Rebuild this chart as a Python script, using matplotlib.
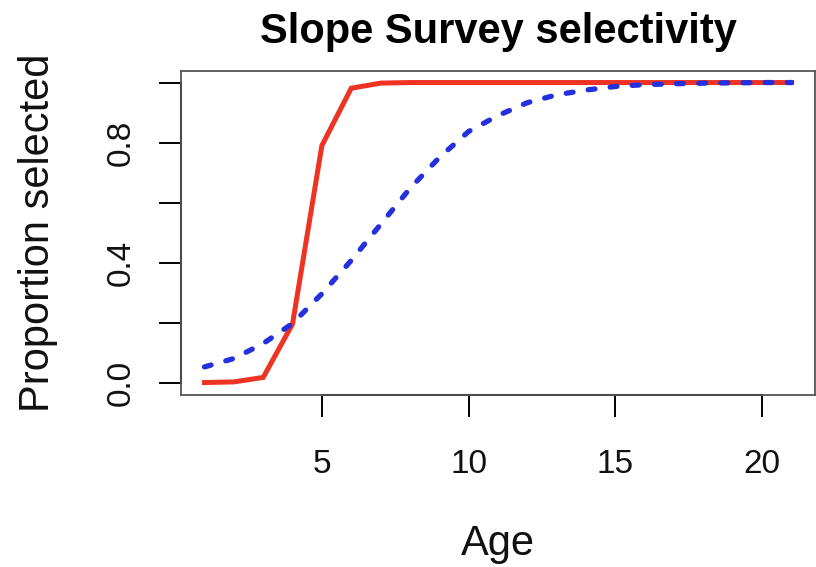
import matplotlib
matplotlib.use("Agg")
import matplotlib.pyplot as plt
import matplotlib.transforms as mtransforms

plt.rcParams["font.family"] = ["Liberation Sans", "DejaVu Sans"]

# selectivity at age for the two curves
ages = list(range(1, 22))
red_sel = [0.0, 0.002, 0.017, 0.195, 0.79, 0.981, 0.998, 1.0, 1.0, 1.0, 1.0,
           1.0, 1.0, 1.0, 1.0, 1.0, 1.0, 1.0, 1.0, 1.0, 1.0]
blue_sel = [0.052, 0.08, 0.13, 0.197, 0.296, 0.407, 0.527, 0.647, 0.75, 0.837,
            0.89, 0.933, 0.959, 0.975, 0.987, 0.993, 0.996, 0.998, 0.999, 1.0, 1.0]

x_ticks = [5, 10, 15, 20]
y_ticks = [0.0, 0.2, 0.4, 0.6, 0.8, 1.0]
y_labels = ["0.0", "", "0.4", "", "0.8", ""]

fig = plt.figure(figsize=(8.16, 5.67), dpi=100)
ax = fig.add_axes([0.2218, 0.3042, 0.7770, 0.5714])

ax.plot(ages, red_sel, color="#EE3322", lw=3.6, solid_joinstyle="miter")
ax.plot(ages, blue_sel, color="#2530DD", lw=3.8, linestyle=(0, (1.3, 2.9)),
        dash_capstyle="round")

# R-style 4% padding on both axes
xpad = 0.04 * (max(ages) - min(ages))
ax.set_xlim(min(ages) - xpad, max(ages) + xpad)
ax.set_ylim(-0.04, 1.04)

for sp in ax.spines.values():
    sp.set_color("#555555")
    sp.set_linewidth(1.3)

# axis lines spanning the tick range only
trans_x = mtransforms.blended_transform_factory(ax.transData, ax.transAxes)
ax.plot([x_ticks[0], x_ticks[-1]], [0, 0], transform=trans_x, color="black",
        lw=1.5, clip_on=False)
trans_y = mtransforms.blended_transform_factory(ax.transAxes, ax.transData)
ax.plot([0, 0], [y_ticks[0], y_ticks[-1]], transform=trans_y, color="black",
        lw=1.5, clip_on=False)

ax.set_xticks(x_ticks)
ax.set_xticklabels([str(t) for t in x_ticks])
ax.set_yticks(y_ticks)
ax.set_yticklabels(y_labels, rotation=90, va="center")
ax.tick_params(axis="both", direction="out", length=16, width=1.4,
               color="black", labelsize=24, labelcolor="#111111")
ax.tick_params(axis="x", pad=23)
ax.tick_params(axis="y", pad=16)

ax.set_xlabel("Age", fontsize=30, labelpad=32, color="#111111")
ax.set_ylabel("Proportion selected", fontsize=30, labelpad=34, color="#111111")
ax.set_title("Slope Survey selectivity", fontsize=30, fontweight="bold", pad=20)

fig.savefig("out.png", dpi=100)
